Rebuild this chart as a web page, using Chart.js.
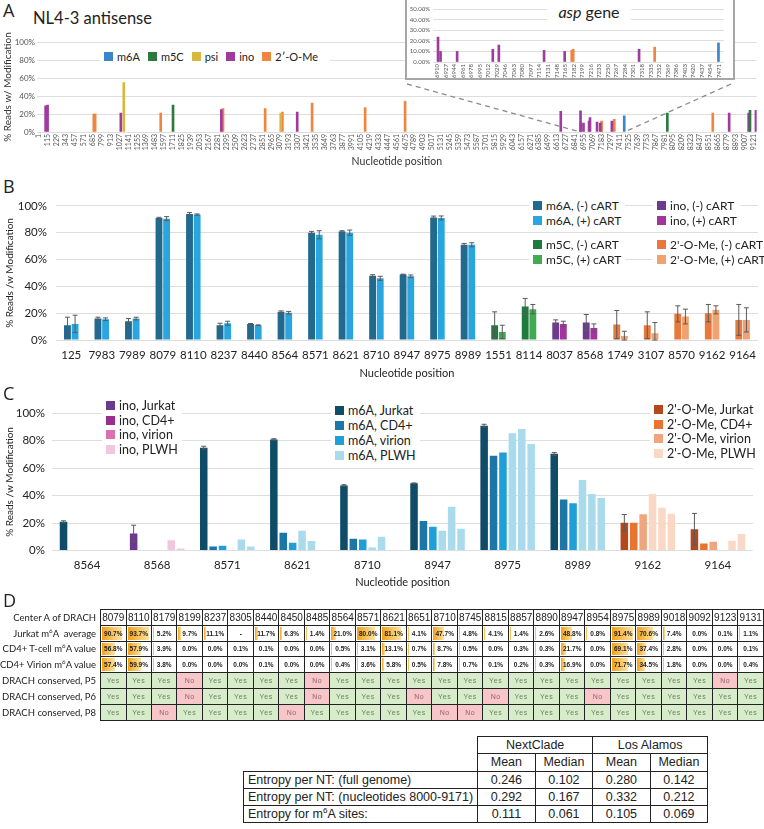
<!DOCTYPE html>
<html lang="en">
<head>
<meta charset="UTF-8">
<title>HIV-1 RNA modification sites</title>
<script src="https://cdn.jsdelivr.net/npm/chart.js@4.4.1/dist/chart.umd.min.js"></script>
<style>
  body { margin:0; width:764px; height:829px; position:relative; overflow:hidden; background:#fff;
         font-family: Lato, "Open Sans", sans-serif; color:#222; }
  canvas { position:absolute; }
  .letter { position:absolute; font: 18px "Open Sans", sans-serif; line-height:20px; }
  .lg { position:absolute; background:#fff; white-space:nowrap; padding:0 4px; }
  .lg i { display:inline-block; width:9px; height:9px; margin-right:4px; }
  #inset { position:absolute; left:405px; top:0px; width:326px; height:78px; background:#fff;
           border:2px solid #a6a6a6; border-top:none; }
  #tblD { position:absolute; left:0; top:609px; border-collapse:collapse; table-layout:fixed; }
  #tblD td { border:1px solid #222; height:14.8px; padding:0; text-align:center; position:relative;
             font: bold 6.5px "Liberation Sans", Arial, sans-serif; overflow:hidden; white-space:nowrap; }
  #tblD td.lab { border:none; text-align:right; padding-right:4px; font: 9.5px Lato, sans-serif; }
  #tblD td.hd { font: 10px "Liberation Sans", Arial, sans-serif; }
  #tblD td .bar { position:absolute; left:1px; top:1px; bottom:1px; background:linear-gradient(to right,#f2a116,#fde3a2); }
  #tblD td span { position:relative; }
  #tblD td.yes { background:#d6ecca; color:#6d7f68; font-weight:normal; letter-spacing:0.6px; font-size:7px; }
  #tblD td.no { background:#f6c6c9; color:#9a6066; font-weight:normal; letter-spacing:0.6px; font-size:7px; }
  #tblE { position:absolute; left:243px; top:736px; border-collapse:collapse; table-layout:fixed;
          font: 12.5px "Liberation Sans", Arial, sans-serif; }
  #tblE td { border:1px solid #222; height:16.3px; padding:0 4px; text-align:center; white-space:nowrap; }
  #tblE td.lab { text-align:left; }
  #tblE td.blank { border:none; }
  sup { font-size:65%; line-height:0; }
</style>
</head>
<body>

<div class="letter" style="left:3px;top:0px;">A</div>
<div style="position:absolute;left:33px;top:8px;font-size:16.5px;">NL4-3 antisense</div>
<canvas id="chartA" width="764" height="150" style="left:0;top:22px;"></canvas>
<div class="lg" id="legA" style="left:100px;top:50px;font-size:11px;line-height:14px;"></div>
<div id="inset">
  <canvas id="chartInset" width="324" height="76" style="left:0;top:2px;"></canvas>
  <div style="position:absolute;left:140px;top:2px;width:84px;background:#fff;text-align:center;font-size:16px;"><em>asp</em> gene</div>
</div>

<div class="letter" style="left:3px;top:176px;">B</div>
<canvas id="chartB" width="764" height="194" style="left:0;top:190px;"></canvas>
<div class="lg" id="legB1" style="left:529px;top:198px;font-size:12px;line-height:15px;"></div>
<div class="lg" id="legB2" style="left:529px;top:236.5px;font-size:12px;line-height:15px;"></div>
<div class="lg" id="legB3" style="left:653px;top:198px;font-size:12px;line-height:15px;"></div>
<div class="lg" id="legB4" style="left:653px;top:236.5px;font-size:12px;line-height:15px;"></div>

<div class="letter" style="left:3px;top:383px;">C</div>
<canvas id="chartC" width="764" height="198" style="left:0;top:395px;"></canvas>
<div class="lg" id="legCino" style="left:102px;top:399px;font-size:12.5px;line-height:14.7px;"></div>
<div class="lg" id="legCm6a" style="left:331px;top:403px;font-size:12.5px;line-height:15px;"></div>
<div class="lg" id="legCome" style="left:650px;top:403px;font-size:12.5px;line-height:14.6px;"></div>

<div class="letter" style="left:3px;top:590px;">D</div>
<table id="tblD"></table>
<table id="tblE"></table>

<script>
// ---------- panel A : NL4-3 antisense, whole genome ----------
const ticksA = [1, 115, 229, 343, 457, 571, 685, 799, 913, 1027, 1141, 1255, 1369, 1483, 1597, 1711, 1825,
  1939, 2053, 2167, 2281, 2395, 2509, 2623, 2737, 2851, 2965, 3079, 3193, 3307, 3421, 3535, 3649, 3763,
  3877, 3991, 4105, 4219, 4333, 4447, 4561, 4675, 4789, 4903, 5017, 5131, 5245, 5359, 5473, 5587, 5701,
  5815, 5929, 6043, 6157, 6271, 6385, 6499, 6613, 6727, 6841, 6955, 7069, 7183, 7297, 7411, 7525, 7639,
  7753, 7867, 7981, 8095, 8209, 8323, 8437, 8551, 8665, 8779, 8893, 9007, 9121];
const ticksInset = [6910, 6927, 6944, 6961, 6978, 6995, 7012, 7029, 7046, 7063, 7080, 7097, 7114, 7131,
  7148, 7165, 7182, 7199, 7216, 7233, 7250, 7267, 7284, 7301, 7318, 7335, 7352, 7369, 7386, 7403, 7420,
  7437, 7454, 7471];

const sitePos = [85, 110, 700, 717, 1045, 1083, 1554, 1711, 2328, 2349, 2887, 3086, 3107, 3296, 3486,
  4163, 4673, 6660, 6912, 6917, 6950, 7021, 7033, 7123, 7164, 7178, 7181, 7312, 7343, 7470,
  8020, 8600, 8809, 9058, 9075, 9151];
const sitePct = [29, 30, 20, 20, 21, 55, 21, 30, 25, 26, 26, 21, 22, 22, 32,
  27, 34, 23, 23.5, 10, 10, 12, 16, 11, 10, 11, 12, 12, 14, 18,
  21, 21, 21, 21, 24, 24];
const siteMod = ['ino', 'ino', 'ome', 'ome', 'ino', 'psi', 'ome', 'm5C', 'ino', 'ome', 'ome', 'psi', 'ome', 'ino', 'ome',
  'ome', 'ome', 'ino', 'ino', 'ino', 'ino', 'ino', 'ino', 'ino', 'ino', 'ome', 'ome', 'ino', 'ome', 'm6A',
  'm5C', 'ome', 'ino', 'ino', 'm5C', 'ino'];

const modKeysA = ['m6A', 'm5C', 'psi', 'ino', 'ome'];
const modNamesA = ['m6A', 'm5C', 'psi', 'ino', '2\u2032-O-Me'];
const modColorsA = { m6A: '#3a86c8', m5C: '#2d7a3e', psi: '#d8b640', ino: '#a03b9e', ome: '#ee8642' };

// ---------- panel B : (-) / (+) cART ----------
const catsB = ['125', '7983', '7989', '8079', '8110', '8237', '8440', '8564', '8571', '8621', '8710', '8947',
  '8975', '8989', '1551', '8114', '8037', '8568', '1749', '3107', '8570', '9162', '9164'];
const modB = ['m6A', 'm6A', 'm6A', 'm6A', 'm6A', 'm6A', 'm6A', 'm6A', 'm6A', 'm6A', 'm6A', 'm6A',
  'm6A', 'm6A', 'm5C', 'm5C', 'ino', 'ino', 'ome', 'ome', 'ome', 'ome', 'ome'];
const minusB = [11, 16, 14, 91, 94, 11, 12, 21, 80, 81, 48, 48.8, 91.4, 71, 11, 25, 13, 13, 11.5, 11, 19.5, 20, 15];
const minusErrB = [6, 1, 2, 0.5, 1, 1.5, 0.3, 0.7, 1, 0.5, 0.7, 0.3, 1, 1, 10, 6, 2, 6, 10.5, 10, 6, 6.5, 11.5];
const plusB = [12, 15.5, 16, 90.5, 93.5, 12.5, 11, 20.3, 78.5, 80, 46, 47.5, 91, 71, 6, 23, 12, 9, 3, 5, 17.5, 22.5, 15];
const plusErrB = [6.5, 1, 1, 1.5, 0.5, 1.5, 0.3, 1, 3, 2, 1.5, 1, 1.5, 1.5, 5, 3.5, 2, 3, 3.5, 8, 5.5, 3, 9];
const colB = { m6A: ['#22698f', '#2aa6df'], m5C: ['#1f7a40', '#41ab52'], ino: ['#6c3a8e', '#a1359b'], ome: ['#e8793a', '#f2a170'] };

// ---------- panel C : Jurkat / CD4+ / virion / PLWH ----------
const catsC = ['8564', '8568', '8571', '8621', '8710', '8947', '8975', '8989', '9162', '9164'];
const modC = ['m6A', 'ino', 'm6A', 'm6A', 'm6A', 'm6A', 'm6A', 'm6A', 'ome', 'ome'];
const jurkatC = [21, 12.5, 75, 81, 47.5, 49, 91, 70.5, 20.3, 15.6];
const jurkatErrC = [0.7, 6, 1, 0.5, 0.5, 0.3, 1, 1, 6, 11.5];
const cd4C = [0.5, 0, 3, 13, 8.7, 21.5, 69, 37.3, 20.3, 5.2];
const virionC = [0.4, 0, 3.5, 5.7, 8, 17.4, 71.5, 34.4, 26.4, 6.4];
const plwh1C = [0, 0, 0, 14.5, 2.3, 14.4, 85.4, 51.4, 41.2, 0];
const plwh2C = [0, 7.5, 8, 7, 10, 32, 88.6, 41.2, 31.2, 7.1];
const plwh3C = [0, 1.5, 3, 0, 0, 16, 77.6, 38.3, 26.8, 12];
const colC = {
  m6A: ['#0f4c68', '#1c77a6', '#1f9fd7', '#a9dbec'],
  ino: ['#6b3a8d', '#9c2d8c', '#dc6fb0', '#efc8df'],
  ome: ['#b4471e', '#e8742f', '#f0a57f', '#f9d9c6']
};

// ---------- panel D tables ----------
const drachSites = [8079, 8110, 8179, 8199, 8237, 8305, 8440, 8450, 8485, 8564, 8571, 8621, 8651, 8710,
  8745, 8815, 8857, 8890, 8947, 8954, 8975, 8989, 9018, 9092, 9123, 9131];
const jurkatAvg = [90.7, 93.7, 5.2, 9.7, 11.1, null, 11.7, 6.3, 1.4, 21.0, 80.0, 81.1, 4.1, 47.7, 4.8, 4.1,
  1.4, 2.6, 48.8, 0.8, 91.4, 70.6, 7.4, 0.0, 0.1, 1.1];
const cd4Tcell = [56.8, 57.9, 3.9, 0.0, 0.0, 0.1, 0.1, 0.0, 0.0, 0.5, 3.1, 13.1, 0.7, 8.7, 0.5, 0.0,
  0.3, 0.3, 21.7, 0.0, 69.1, 37.4, 2.8, 0.0, 0.0, 0.1];
const cd4Virion = [57.4, 59.9, 3.8, 0.0, 0.0, 0.0, 0.1, 0.0, 0.0, 0.4, 3.6, 5.8, 0.5, 7.8, 0.7, 0.1,
  0.2, 0.3, 16.9, 0.0, 71.7, 34.5, 1.8, 0.0, 0.0, 0.4];
const consP5 = ['Yes', 'Yes', 'Yes', 'No', 'Yes', 'Yes', 'Yes', 'Yes', 'No', 'Yes', 'Yes', 'Yes', 'Yes', 'Yes',
  'Yes', 'Yes', 'Yes', 'Yes', 'Yes', 'Yes', 'Yes', 'Yes', 'Yes', 'Yes', 'No', 'Yes'];
const consP6 = ['Yes', 'Yes', 'Yes', 'No', 'Yes', 'Yes', 'Yes', 'Yes', 'No', 'Yes', 'Yes', 'Yes', 'No', 'Yes',
  'Yes', 'No', 'Yes', 'Yes', 'Yes', 'No', 'Yes', 'Yes', 'Yes', 'Yes', 'Yes', 'Yes'];
const consP8 = ['Yes', 'Yes', 'No', 'Yes', 'Yes', 'Yes', 'Yes', 'No', 'Yes', 'Yes', 'Yes', 'Yes', 'Yes', 'No',
  'No', 'Yes', 'Yes', 'Yes', 'Yes', 'Yes', 'Yes', 'Yes', 'Yes', 'Yes', 'Yes', 'Yes'];

const entropyRows = ['Entropy per NT: (full genome)', 'Entropy per NT: (nucleotides 8000-9171)', 'Entropy for m<sup>6</sup>A sites:'];
const nextcladeMean = ['0.246', '0.292', '0.111'];
const nextcladeMedian = ['0.102', '0.167', '0.061'];
const losAlamosMean = ['0.280', '0.332', '0.105'];
const losAlamosMedian = ['0.142', '0.212', '0.069'];

// ================= drawing =================
Chart.defaults.font.family = 'Lato, "Open Sans", sans-serif';
Chart.defaults.color = '#222';
Chart.defaults.animation = false;
Chart.defaults.plugins.legend.display = false;
Chart.defaults.plugins.tooltip.enabled = false;

const errorBars = {
  id: 'errorBars',
  afterDatasetsDraw(chart) {
    const ctx = chart.ctx, y = chart.scales.y;
    chart.data.datasets.forEach((ds, i) => {
      if (!ds.errors) return;
      chart.getDatasetMeta(i).data.forEach((bar, j) => {
        const e = ds.errors[j];
        if (!e) return;
        const v = ds.data[j];
        const t = y.getPixelForValue(v + e), b = y.getPixelForValue(Math.max(0, v - e));
        ctx.save();
        ctx.strokeStyle = '#5a5a5a';
        ctx.lineWidth = 1;
        ctx.beginPath();
        ctx.moveTo(bar.x, t); ctx.lineTo(bar.x, b);
        ctx.moveTo(bar.x - 2.5, t); ctx.lineTo(bar.x + 2.5, t);
        ctx.moveTo(bar.x - 2.5, b); ctx.lineTo(bar.x + 2.5, b);
        ctx.stroke();
        ctx.restore();
      });
    });
  }
};

function siteSets(lo, hi, thick) {
  return modKeysA.map(k => ({
    label: k,
    data: sitePos.map((p, i) => ({ x: p, y: sitePct[i], m: siteMod[i] }))
      .filter(d => d.m === k && d.x >= lo && d.x <= hi),
    backgroundColor: modColorsA[k],
    barThickness: thick,
    grouped: false
  }));
}

// dashed zoom lines from the inset to the genome axis
const zoomLines = {
  id: 'zoomLines',
  afterDraw(chart) {
    const { ctx, scales: { x, y } } = chart;
    const y0 = y.getPixelForValue(0);
    ctx.save();
    ctx.strokeStyle = '#8c8c8c';
    ctx.lineWidth = 1.3;
    ctx.setLineDash([5, 4]);
    ctx.beginPath();
    ctx.moveTo(407, 62); ctx.lineTo(x.getPixelForValue(ticksInset[0]), y0);
    ctx.moveTo(731, 62); ctx.lineTo(x.getPixelForValue(ticksInset[ticksInset.length - 1]), y0);
    ctx.stroke();
    ctx.restore();
  }
};

new Chart(document.getElementById('chartA'), {
  type: 'bar',
  data: { datasets: siteSets(0, 10000, 2) },
  plugins: [zoomLines],
  options: {
    responsive: false,
    layout: { padding: { top: 20, right: 0, left: 0, bottom: 0 } },
    scales: {
      x: {
        type: 'linear', min: -25, max: 9160, offset: false,
        afterBuildTicks: s => { s.ticks = ticksA.map(v => ({ value: v })); },
        afterFit: s => { s.height = 40; },
        grid: { display: false, drawTicks: false }, border: { display: false },
        ticks: { autoSkip: false, minRotation: 90, maxRotation: 90, padding: 2, color: '#555',
                 font: { size: 7 }, callback: v => String(v) },
        title: { display: true, text: 'Nucleotide position', font: { size: 10.5 }, color: '#333', padding: { top: 0, bottom: 4 } }
      },
      y: {
        min: 0, max: 100,
        afterFit: s => { s.width = 37; },
        grid: { color: '#dedede', drawTicks: false }, border: { display: false },
        ticks: { stepSize: 10, padding: 2, color: '#555', font: { size: 8 }, callback: v => v % 20 === 0 ? v + '%' : '' },
        title: { display: true, text: '% Reads w/ Modification', font: { size: 10 }, color: '#333', padding: 2 }
      }
    }
  }
});

new Chart(document.getElementById('chartInset'), {
  type: 'bar',
  data: { datasets: siteSets(ticksInset[0] - 8, ticksInset[ticksInset.length - 1] + 8, 2) },
  options: {
    responsive: false,
    layout: { padding: { top: 7, right: 7, left: 0, bottom: 0 } },
    scales: {
      x: {
        type: 'linear', min: 6902, max: 7481, offset: false,
        afterBuildTicks: s => { s.ticks = ticksInset.map(v => ({ value: v })); },
        afterFit: s => { s.height = 16; },
        grid: { display: false, drawTicks: false }, border: { display: false },
        ticks: { autoSkip: false, minRotation: 90, maxRotation: 90, padding: 2, color: '#555',
                 font: { size: 6 }, callback: v => String(v) }
      },
      y: {
        min: 0, max: 50,
        afterFit: s => { s.width = 26; },
        grid: { color: '#dedede', drawTicks: false }, border: { display: false },
        ticks: { stepSize: 10, padding: 3, color: '#555', font: { size: 6 }, callback: v => v.toFixed(2) + '%' }
      }
    }
  }
});

new Chart(document.getElementById('chartB'), {
  type: 'bar',
  data: {
    labels: catsB,
    datasets: [
      { label: '(-) cART', data: minusB, errors: minusErrB, backgroundColor: modB.map(m => colB[m][0]) },
      { label: '(+) cART', data: plusB, errors: plusErrB, backgroundColor: modB.map(m => colB[m][1]) }
    ]
  },
  plugins: [errorBars],
  options: {
    responsive: false,
    layout: { padding: { top: 12.3, right: 2, left: 0, bottom: 0 } },
    datasets: { bar: { categoryPercentage: 0.5, barPercentage: 0.9 } },
    scales: {
      x: {
        afterFit: s => { s.height = 44; },
        grid: { display: false, drawTicks: false }, border: { display: false },
        ticks: { padding: 8, font: { size: 11.5 }, color: '#222', autoSkip: false, minRotation: 0, maxRotation: 0 },
        title: { display: true, text: 'Nucleotide position', font: { size: 11 }, padding: { top: 0, bottom: 4 } }
      },
      y: {
        min: 0, max: 100,
        afterFit: s => { s.width = 56; },
        grid: { color: '#dedede', drawTicks: false }, border: { display: false },
        ticks: { stepSize: 10, padding: 9, font: { size: 11.5 }, color: '#222', callback: v => v % 20 === 0 ? v + '%' : '' },
        title: { display: true, text: '% Reads /w Modification', font: { size: 10 }, padding: 4 }
      }
    }
  }
});

const seriesC = [jurkatC, cd4C, virionC, plwh1C, plwh2C, plwh3C];
const shadeIdxC = [0, 1, 2, 3, 3, 3];
new Chart(document.getElementById('chartC'), {
  type: 'bar',
  data: {
    labels: catsC,
    datasets: seriesC.map((d, k) => ({
      data: d,
      errors: k === 0 ? jurkatErrC : null,
      backgroundColor: modC.map(m => colC[m][shadeIdxC[k]])
    }))
  },
  plugins: [errorBars],
  options: {
    responsive: false,
    layout: { padding: { top: 18.3, right: 11, left: 0, bottom: 0 } },
    datasets: { bar: { categoryPercentage: 0.805, barPercentage: 0.8 } },
    scales: {
      x: {
        afterFit: s => { s.height = 42.4; },
        grid: { display: false, drawTicks: false }, border: { display: false },
        ticks: { padding: 7.6, font: { size: 11.5 }, color: '#222', autoSkip: false, minRotation: 0, maxRotation: 0 },
        title: { display: true, text: 'Nucleotide position', font: { size: 11 }, padding: { top: 0, bottom: 4 } }
      },
      y: {
        min: 0, max: 100,
        afterFit: s => { s.width = 52; },
        grid: { color: '#dedede', drawTicks: false }, border: { display: false },
        ticks: { stepSize: 10, padding: 7, font: { size: 11.5 }, color: '#222', callback: v => v % 20 === 0 ? v + '%' : '' },
        title: { display: true, text: '% Reads /w Modification', font: { size: 10 }, padding: 4 }
      }
    }
  }
});

// ---------- legends ----------
function legendRows(el, items, inline) {
  document.getElementById(el).innerHTML = items.map(([c, t]) =>
    (inline ? '<span style="margin-right:8px">' : '<div>') + '<i style="background:' + c + '"></i>' + t +
    (inline ? '</span>' : '</div>')).join('');
}
legendRows('legA', modKeysA.map((k, i) => [modColorsA[k], modNamesA[i]]), true);
legendRows('legB1', [[colB.m6A[0], 'm6A, (-) cART'], [colB.m6A[1], 'm6A, (+) cART']]);
legendRows('legB2', [[colB.m5C[0], 'm5C, (-) cART'], [colB.m5C[1], 'm5C, (+) cART']]);
legendRows('legB3', [[colB.ino[0], 'ino, (-) cART'], [colB.ino[1], 'ino, (+) cART']]);
legendRows('legB4', [[colB.ome[0], "2'-O-Me, (-) cART"], [colB.ome[1], "2'-O-Me, (+) cART"]]);
const groupsC = ['Jurkat', 'CD4+', 'virion', 'PLWH'];
legendRows('legCino', groupsC.map((g, i) => [colC.ino[i], 'ino, ' + g]));
legendRows('legCm6a', groupsC.map((g, i) => [colC.m6A[i], 'm6A, ' + g]));
legendRows('legCome', groupsC.map((g, i) => [colC.ome[i], "2'-O-Me, " + g]));

// ---------- table D ----------
function pctCell(v) {
  if (v === null) return '<td><span>-</span></td>';
  return '<td><div class="bar" style="width:calc((100% - 2px) * ' + (v / 100) + ')"></div><span>' + v.toFixed(1) + '%</span></td>';
}
let html = '<col style="width:87px">' + drachSites.map(() => '<col style="width:25.73px">').join('');
html += '<tr><td class="lab">Center A of DRACH</td>' + drachSites.map(s => '<td class="hd">' + s + '</td>').join('') + '</tr>';
html += '<tr><td class="lab">Jurkat m<sup>6</sup>A&nbsp; average</td>' + jurkatAvg.map(pctCell).join('') + '</tr>';
html += '<tr><td class="lab">CD4+ T-cell m<sup>6</sup>A value</td>' + cd4Tcell.map(pctCell).join('') + '</tr>';
html += '<tr><td class="lab">CD4+ Virion m<sup>6</sup>A value</td>' + cd4Virion.map(pctCell).join('') + '</tr>';
[['DRACH conserved, P5', consP5], ['DRACH conserved, P6', consP6], ['DRACH conserved, P8', consP8]].forEach(([lab, arr]) => {
  html += '<tr><td class="lab">' + lab + '</td>' + arr.map(a => '<td class="' + a.toLowerCase() + '">' + a + '</td>').join('') + '</tr>';
});
document.getElementById('tblD').innerHTML = html;

let e = '<col style="width:227px"><col style="width:57.5px"><col style="width:57.5px"><col style="width:57.5px"><col style="width:57.5px">';
e += '<tr><td class="blank"></td><td colspan="2">NextClade</td><td colspan="2">Los Alamos</td></tr>';
e += '<tr><td class="blank"></td><td>Mean</td><td>Median</td><td>Mean</td><td>Median</td></tr>';
entropyRows.forEach((r, i) => {
  e += '<tr><td class="lab">' + r + '</td><td>' + nextcladeMean[i] + '</td><td>' + nextcladeMedian[i] +
       '</td><td>' + losAlamosMean[i] + '</td><td>' + losAlamosMedian[i] + '</td></tr>';
});
document.getElementById('tblE').innerHTML = e;
</script>
</body>
</html>
